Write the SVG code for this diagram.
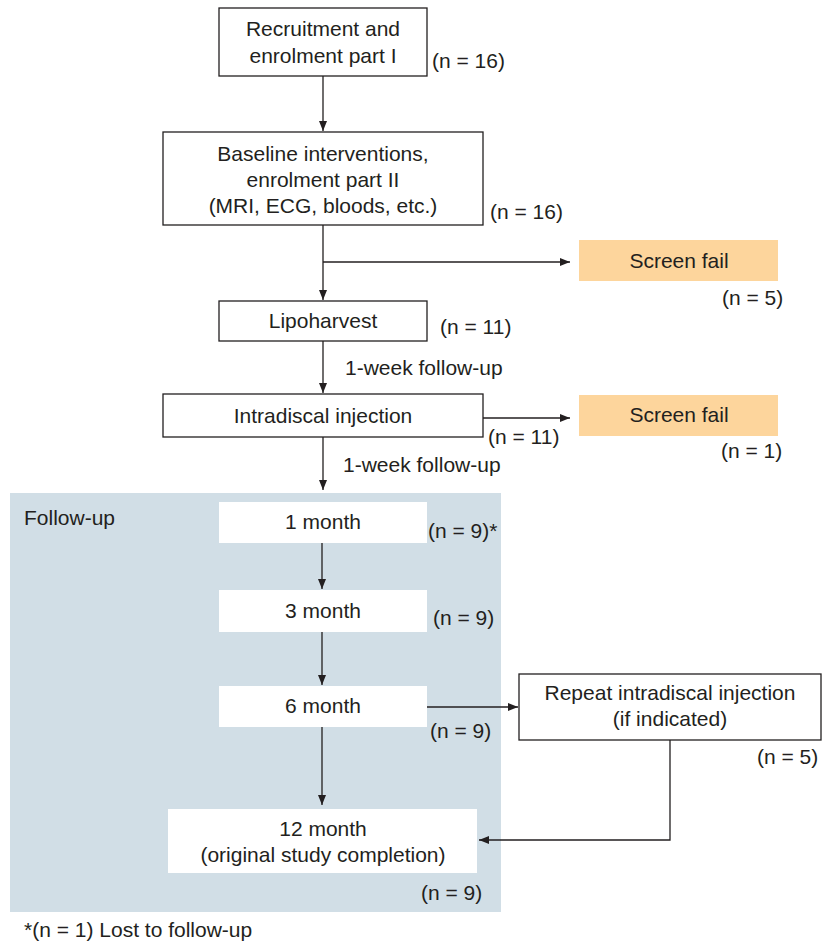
<svg xmlns="http://www.w3.org/2000/svg" width="822" height="946" viewBox="0 0 822 946">
<defs>
<style>
text{font-family:"Liberation Sans",Arial,sans-serif;font-size:21px;fill:#231f20}
.c{text-anchor:middle}
.box{fill:#fff;stroke:#231f20;stroke-width:1.3}
.wbox{fill:#fff;stroke:none}
.fail{fill:#fdd59c;stroke:none}
.ln{fill:none;stroke:#231f20;stroke-width:1.3}
</style>
<marker id="ah" viewBox="0 0 10 8" refX="10" refY="4" markerWidth="10" markerHeight="8" markerUnits="userSpaceOnUse" orient="auto">
<path d="M0,0 L10,4 L0,8 z" fill="#231f20"/>
</marker>
</defs>
<rect id="panel" x="10" y="493" width="491" height="419" fill="#d1dee6"/>
<g id="recruit">
<rect class="box" x="219" y="8" width="208" height="68"/>
<text class="c" x="323" y="36">Recruitment and</text>
<text class="c" x="323" y="63">enrolment part I</text>
<text x="432" y="68">(n = 16)</text>
</g>
<g id="baseline">
<rect class="box" x="163" y="132" width="320" height="93"/>
<text class="c" x="323" y="161">Baseline interventions,</text>
<text class="c" x="323" y="187">enrolment part II</text>
<text class="c" x="323" y="213">(MRI, ECG, bloods, etc.)</text>
<text x="490" y="219">(n = 16)</text>
</g>
<g id="fail1">
<rect class="fail" x="579" y="240" width="199" height="41"/>
<text class="c" x="679" y="268">Screen fail</text>
<text x="722" y="305">(n = 5)</text>
</g>
<g id="lipo">
<rect class="box" x="219" y="301" width="208" height="40"/>
<text class="c" x="323" y="328">Lipoharvest</text>
<text x="440" y="334">(n = 11)</text>
</g>
<g id="intra">
<rect class="box" x="163" y="394" width="320" height="43"/>
<text class="c" x="323" y="423">Intradiscal injection</text>
<text x="488" y="444">(n = 11)</text>
</g>
<g id="fail2">
<rect class="fail" x="579" y="395" width="199" height="41"/>
<text class="c" x="679" y="422">Screen fail</text>
<text x="721" y="458">(n = 1)</text>
</g>
<text x="24" y="525">Follow-up</text>
<g id="m1">
<rect class="wbox" x="219" y="502" width="208" height="41"/>
<text class="c" x="323" y="529">1 month</text>
<text x="428" y="538">(n = 9)*</text>
</g>
<g id="m3">
<rect class="wbox" x="219" y="590" width="208" height="42"/>
<text class="c" x="323" y="618">3 month</text>
<text x="433" y="625">(n = 9)</text>
</g>
<g id="m6">
<rect class="wbox" x="219" y="686" width="208" height="41"/>
<text class="c" x="323" y="713">6 month</text>
<text x="430" y="738">(n = 9)</text>
</g>
<g id="repeat">
<rect class="box" x="519" y="674" width="302" height="66"/>
<text class="c" x="670" y="700">Repeat intradiscal injection</text>
<text class="c" x="670" y="726">(if indicated)</text>
<text x="757" y="764">(n = 5)</text>
</g>
<g id="m12">
<rect class="wbox" x="168" y="809" width="309" height="64"/>
<text class="c" x="323" y="836">12 month</text>
<text class="c" x="323" y="862">(original study completion)</text>
<text x="421" y="900">(n = 9)</text>
</g>
<text x="24" y="937">*(n = 1) Lost to follow-up</text>
<g id="connectors">
<path class="ln" d="M323,76 V131" marker-end="url(#ah)"/>
<path class="ln" d="M323,225 V300" marker-end="url(#ah)"/>
<path class="ln" d="M323,262 H570" marker-end="url(#ah)"/>
<path class="ln" d="M323,341 V393" marker-end="url(#ah)"/>
<text x="345" y="375">1-week follow-up</text>
<path class="ln" d="M483,418 H570" marker-end="url(#ah)"/>
<path class="ln" d="M323,437 V490" marker-end="url(#ah)"/>
<text x="343" y="472">1-week follow-up</text>
<path class="ln" d="M322,543 V589" marker-end="url(#ah)"/>
<path class="ln" d="M322,632 V685" marker-end="url(#ah)"/>
<path class="ln" d="M322,727 V805" marker-end="url(#ah)"/>
<path class="ln" d="M427,707 H518" marker-end="url(#ah)"/>
<path class="ln" d="M670,740 V840 H479" marker-end="url(#ah)"/>
</g>
</svg>
